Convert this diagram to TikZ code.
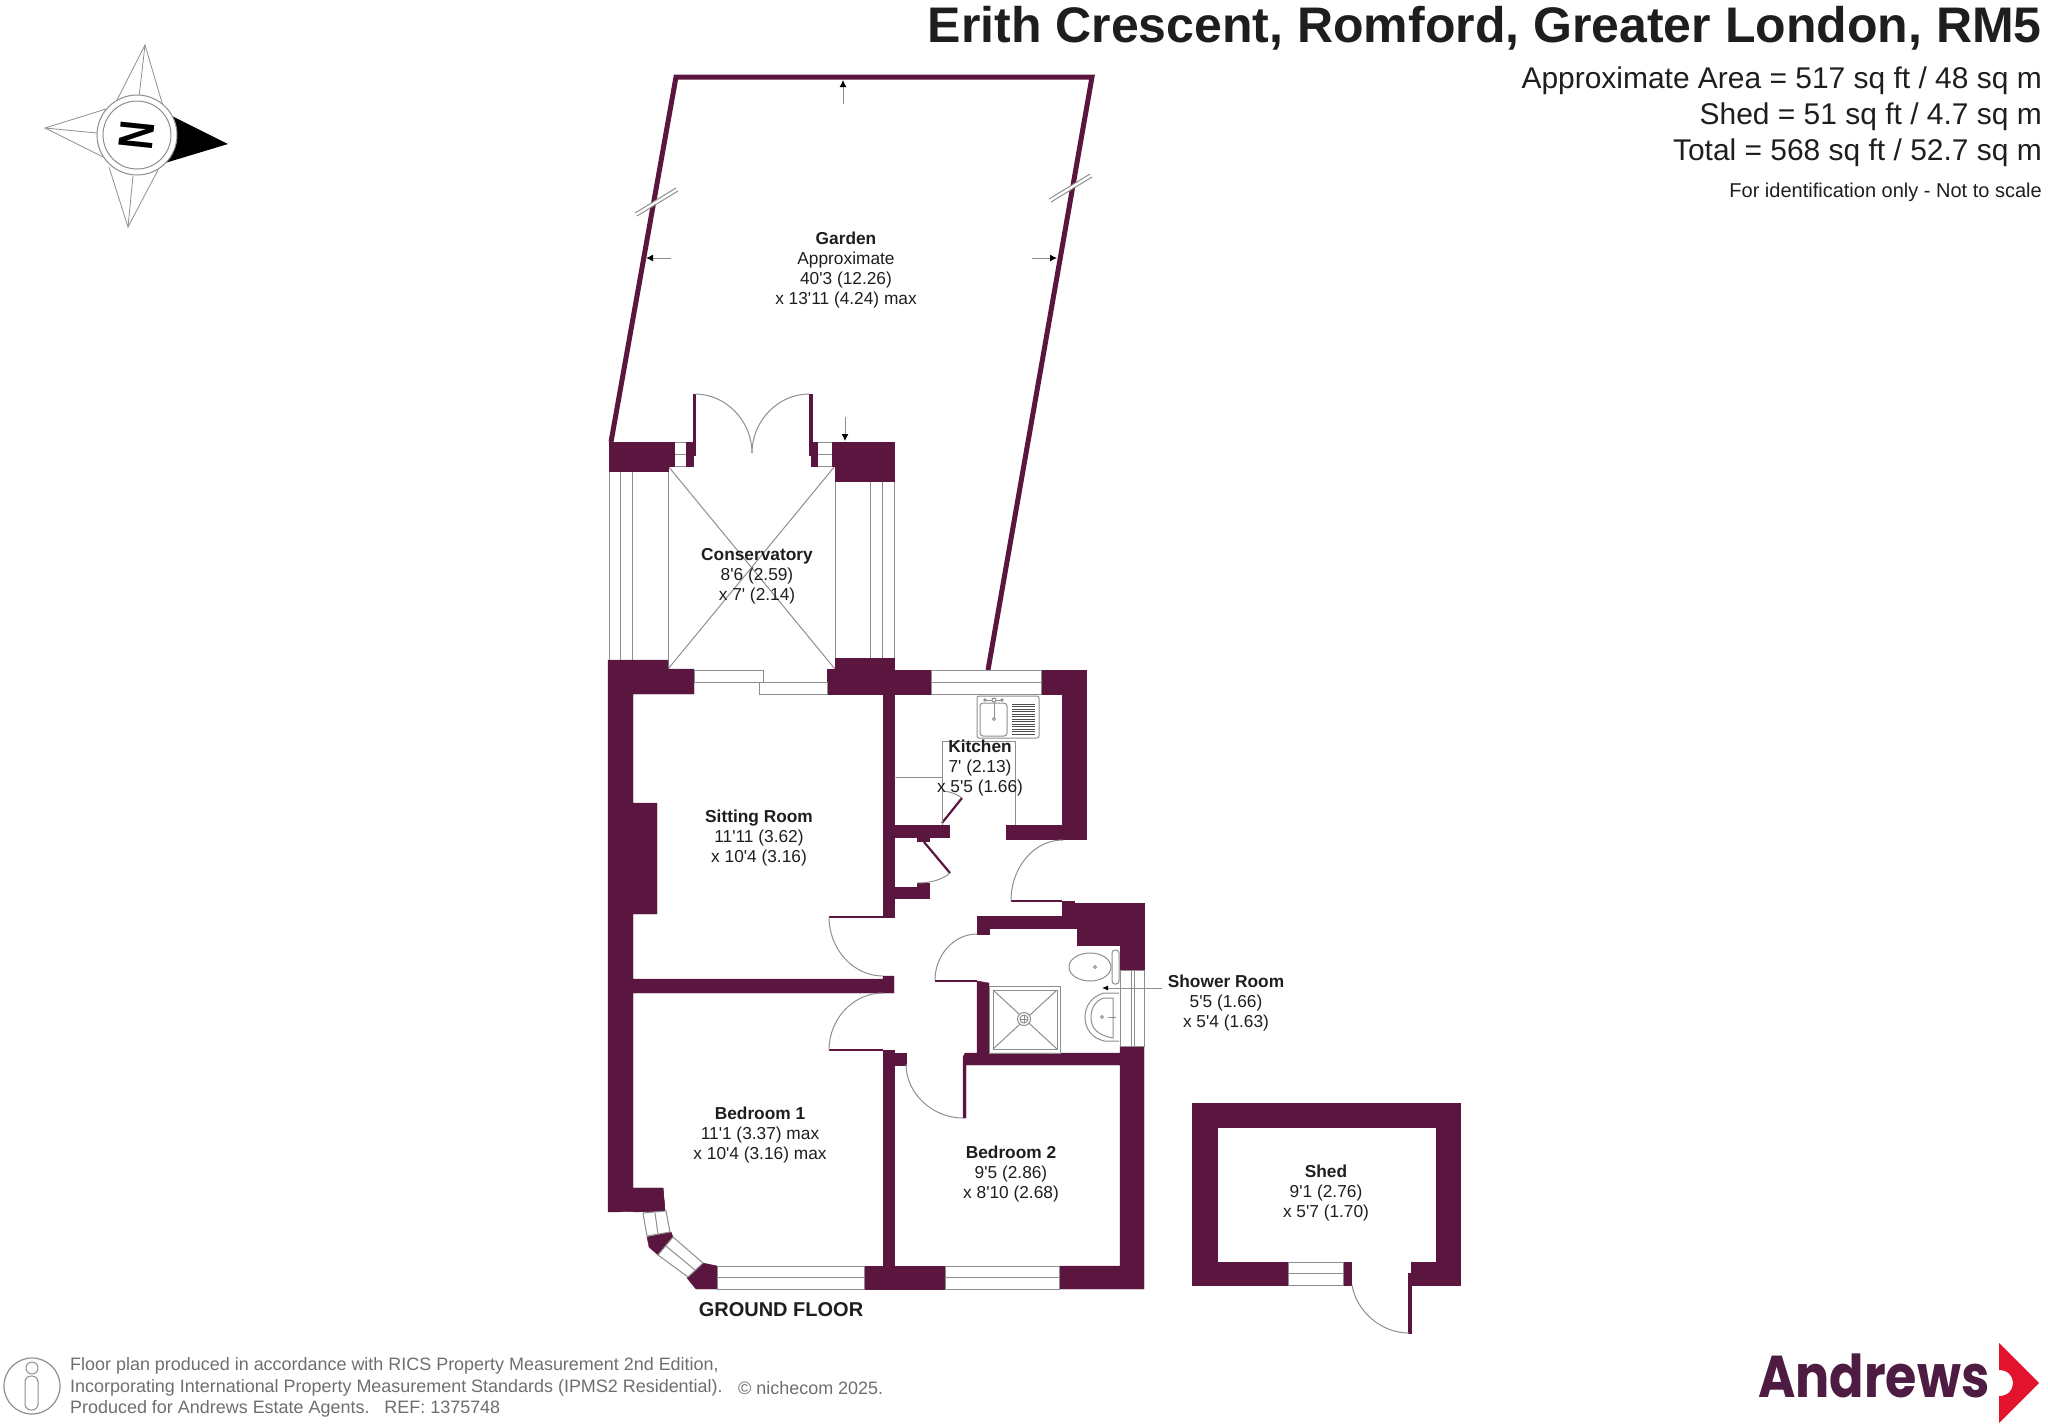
\documentclass[tikz,border=0pt]{standalone}
\usepackage{fontspec}
\setmainfont{Liberation Sans}[Ligatures=TeXOff]
\newfontfamily\logofont{Poppins}[FakeStretch=0.86]
\usetikzlibrary{arrows.meta}
\definecolor{wallplum}{HTML}{5B1640}
\definecolor{logoplum}{HTML}{4E1B42}
\definecolor{logored}{HTML}{E3132D}
\definecolor{thingray}{HTML}{8E8E8E}
\definecolor{footgray}{HTML}{6E6E6E}
\definecolor{inktext}{HTML}{1E1E1E}
\begin{document}
\begin{tikzpicture}
[
x=1pt, y=-1pt,
wall/.style={fill=wallplum, draw=wallplum, line width=0.4pt},
thickleaf/.style={draw=wallplum, line width=2.2pt},
gardenedge/.style={draw=wallplum, line width=5pt, line join=miter},
thin line/.style={draw=thingray, line width=1pt},
swing/.style={draw=thingray, line width=1pt},
pane/.style={draw=thingray, fill=white, line width=1pt},
dimarrow/.style={draw=thingray, line width=1pt, -{Latex[black,length=7pt,width=7pt]}},
roomlabel/.style={align=center, inner sep=0pt, text=inktext, font=\fontsize{17.3}{20}\selectfont},
headline/.style={anchor=east, inner sep=0pt, text=inktext, font=\fontsize{29.95}{32}\selectfont},
footline/.style={anchor=west, inner sep=0pt, text=footgray, font=\fontsize{17.95}{20}\selectfont}
]
\useasboundingbox (0,0) rectangle (2048,1425);
%Garden
\draw[gardenedge] (611,442) -- (676,77) -- (1092,77) -- (988,670);
\fill[white] (636,216) -- (677,191) -- (676,188) -- (635,213) -- cycle;
\fill[white] (1050,202) -- (1091,177) -- (1090,174) -- (1049,199) -- cycle;
\draw[thin line] (635,213) -- (676,188);
\draw[thin line] (637,216) -- (678,191);
\draw[thin line] (1049,199) -- (1090,174);
\draw[thin line] (1051,202) -- (1092,177);
\coordinate (gardentopfoot) at (843,104);
\coordinate (gardentoptip) at (843,80);
\coordinate (gardenleftfoot) at (671,258);
\coordinate (gardenlefttip) at (646,258);
\coordinate (gardenrightfoot) at (1032,258);
\coordinate (gardenrighttip) at (1057,258);
\coordinate (gardenlowfoot) at (845,417);
\coordinate (gardenlowtip) at (845,441);
\draw[dimarrow] (gardentopfoot) -- (gardentoptip);
\draw[dimarrow] (gardenleftfoot) -- (gardenlefttip);
\draw[dimarrow] (gardenrightfoot) -- (gardenrighttip);
\draw[dimarrow] (gardenlowfoot) -- (gardenlowtip);
%Conservatory
\draw[thin line] (609,471) -- (609,660);
\draw[thin line] (620,471) -- (620,660);
\draw[thin line] (632,471) -- (632,660);
\draw[thin line] (668,466) -- (668,669);
\draw[thin line] (835,466) -- (835,669);
\draw[thin line] (870,481) -- (870,658);
\draw[thin line] (882,481) -- (882,658);
\draw[thin line] (894,481) -- (894,658);
\draw[thin line] (668,466) -- (835,669);
\draw[thin line] (835,466) -- (668,669);
\draw[pane] (674,442) rectangle (686,466);
\draw[thin line] (674,454) -- (686,454);
\draw[pane] (817,442) rectangle (832,466);
\draw[thin line] (817,454) -- (832,454);
\draw[thin line] (668,466) -- (693,466);
\draw[thin line] (811,466) -- (835,466);
\fill[wall] (609,442) -- (674,442) -- (674,466) -- (668,466) -- (668,471) -- (609,471) -- cycle;
\fill[wall] (832,442) -- (894,442) -- (894,481) -- (835,481) -- (835,466) -- (832,466) -- cycle;
\fill[wall] (693,394) -- (695,394) -- (695,455) -- (693,455) -- (693,466) -- (686,466) -- (686,442) -- (693,442) -- cycle;
\fill[wall] (809,394) -- (812,394) -- (812,442) -- (817,442) -- (817,466) -- (811,466) -- (811,455) -- (809,455) -- cycle;
\draw[swing] (695,394) .. controls (726,394) and (752,421) .. (752,453);
\draw[swing] (809,394) .. controls (778,394) and (752,421) .. (752,453);
%Walls
\fill[wall] (608,660) -- (668,660) -- (668,669) -- (694,669) -- (694,694) -- (633,694) -- (633,803) -- (657,803) -- (657,914) -- (633,914) -- (633,979) -- (883,979) -- (883,976) -- (894,976) -- (894,993) -- (633,993) -- (633,1188) -- (663,1188) -- (665,1211) -- (608,1212) -- cycle;
\fill[wall] (827,669) -- (835,669) -- (835,658) -- (894,658) -- (894,670) -- (931,670) -- (931,694) -- (894,694) -- (894,917) -- (883,917) -- (883,694) -- (827,694) -- cycle;
\fill[wall] (1041,670) -- (1086,670) -- (1086,839) -- (1006,839) -- (1006,825) -- (1062,825) -- (1062,694) -- (1041,694) -- cycle;
\fill[wall] (894,825) -- (949,825) -- (949,837) -- (929,837) -- (929,841) -- (917,841) -- (917,837) -- (894,837) -- cycle;
\fill[wall] (894,887) -- (917,887) -- (917,883) -- (929,883) -- (929,898) -- (894,898) -- cycle;
\fill[wall] (883,1050) -- (894,1050) -- (894,1053) -- (906,1053) -- (906,1065) -- (894,1065) -- (894,1266) -- (945,1266) -- (945,1289) -- (864,1289) -- (864,1266) -- (883,1266) -- cycle;
\fill[wall] (963,1057) -- (965,1053) -- (1120,1053) -- (1120,1046) -- (1144,1046) -- (1144,1289) -- (1059,1289) -- (1059,1266) -- (1120,1266) -- (1120,1065) -- (966,1065) -- (966,1118) -- (963,1118) -- cycle;
\fill[wall] (1062,901) -- (1074,901) -- (1074,903) -- (1144,903) -- (1144,970) -- (1120,970) -- (1120,945) -- (1077,945) -- (1077,928) -- (989,928) -- (989,934) -- (977,934) -- (977,916) -- (1062,916) -- cycle;
\fill[wall] (977,981) -- (989,983) -- (989,1053) -- (977,1053) -- cycle;
\fill[wall] (633,1188) -- (663,1188) -- (665,1211) -- (633,1212) -- cycle;
\fill[wall] (647,1237) -- (671,1232) -- (673,1237) -- (658,1255) -- (649,1247) -- cycle;
\fill[wall] (703,1263) -- (717,1266) -- (717,1289) -- (696,1289) -- (687,1278) -- cycle;
%Doors
\draw[thickleaf] (1011,901) -- (1062,901);
\draw[thickleaf] (829,917) -- (883,917);
\draw[thickleaf] (829,1050) -- (883,1050);
\draw[thickleaf] (935,981) -- (977,981);
\draw[thickleaf] (924,842) -- (950,873);
\draw[thickleaf] (942,823) -- (962,798);
\draw[swing] (829,917) .. controls (829,949) and (853,976) .. (883,976);
\draw[swing] (829,1050) .. controls (829,1019) and (853,993) .. (883,993);
\draw[swing] (906,1064) .. controls (906,1094) and (933,1118) .. (963,1118);
\draw[swing] (1011,901) .. controls (1011,867) and (1034,840) .. (1063,840);
\draw[swing] (935,980) .. controls (935,955) and (954,934) .. (977,934);
\draw[swing] (950,873) .. controls (942,880) and (930,883) .. (917,883);
\draw[swing] (962,798) .. controls (955,793) and (950,792) .. (944,791);
%Windows
\draw[pane] (694,670) rectangle (763,682);
\draw[pane] (759,682) rectangle (827,694);
\draw[pane] (931,670) rectangle (1041,694);
\draw[thin line] (931,682) -- (1041,682);
\draw[pane] (1120,970) rectangle (1144,1046);
\draw[thin line] (1131,970) -- (1131,1046);
\draw[thin line] (1134,970) -- (1134,1046);
\draw[pane] (717,1266) rectangle (864,1289);
\draw[thin line] (717,1277) -- (864,1277);
\draw[pane] (945,1266) rectangle (1059,1289);
\draw[thin line] (945,1277) -- (1059,1277);
\draw[pane] (643,1213) -- (666,1211) -- (670,1232) -- (647,1236) -- cycle;
\draw[thin line] (655,1213) -- (658,1234);
\draw[pane] (658,1255) -- (673,1237) -- (703,1263) -- (688,1277) -- cycle;
\draw[thin line] (666,1246) -- (695,1270);
%Kitchen fittings
\draw[thin line] (894,777) -- (942,777);
\draw[thin line] (942,825) -- (942,741) -- (1015,741) -- (1015,825);
\draw[thin line, rounded corners=2pt] (977,696) rectangle (1039,738);
\draw[thin line, rounded corners=3pt] (980,703) rectangle (1007,736);
\foreach \yy in {704,706.5,...,734}
	\draw[draw=black!70, line width=0.8pt] (1012,\yy) -- (1035,\yy);
\draw[thin line] (985,700) -- (1002,700);
\draw[thin line] (994,700) -- (994,719);
\draw[thin line, fill=white] (994,700) circle (2pt);
\draw[thin line, fill=white] (985,700) circle (1.2pt);
\draw[thin line, fill=white] (1002,700) circle (1.2pt);
\draw[thin line, fill=white] (994,719) circle (1.5pt);
%Shower room fittings
\draw[thin line] (989,986) rectangle (1060,1053);
\draw[thin line] (993,990) rectangle (1057,1049);
\draw[thin line] (993,990) -- (1057,1049);
\draw[thin line] (1057,990) -- (993,1049);
\draw[thin line, fill=white] (1024,1019) circle (6.5pt);
\draw[thin line] (1024,1019) circle (4pt);
\draw[thin line] (1020,1019) -- (1028,1019);
\draw[thin line] (1024,1015) -- (1024,1023);
\draw[thin line] (1090,967) ellipse (21pt and 14pt);
\draw[thin line, fill=white, rounded corners=3pt] (1112,950) rectangle (1119,984);
\draw[thin line] (1095,967) circle (1.5pt);
\draw[thin line] (1119,993) -- (1104,993) .. controls (1092,996) and (1085,1006) .. (1085,1017) .. controls (1085,1029) and (1092,1038) .. (1104,1041) -- (1119,1041);
\draw[thin line] (1113,998) -- (1104,998) .. controls (1096,1000) and (1091,1008) .. (1091,1017) .. controls (1091,1027) and (1096,1035) .. (1113,1038) -- cycle;
\draw[thin line] (1102,1017) circle (1.5pt);
\draw[thin line] (1108,1017) -- (1116,1017);
\coordinate (showerfoot) at (1162,988);
\coordinate (showertip) at (1102,988);
\draw[dimarrow, -{Latex[black,length=6pt,width=5pt]}] (showerfoot) -- (showertip);
%Shed
\fill[wall] (1192,1103) -- (1460,1103) -- (1460,1285) -- (1411,1285) -- (1411,1262) -- (1436,1262) -- (1436,1127) -- (1217,1127) -- (1217,1262) -- (1288,1262) -- (1288,1285) -- (1192,1285) -- cycle;
\fill[wall] (1343,1262) rectangle (1351,1285);
\fill[wall] (1408,1273) rectangle (1411,1333);
\draw[pane] (1288,1262) rectangle (1343,1285);
\draw[thin line] (1288,1273) -- (1343,1273);
\draw[swing] (1352,1285) .. controls (1356,1310) and (1380,1333) .. (1409,1333);
%Compass
\draw[thin line, line width=0.8pt] (116,102) -- (145,45) -- (163,106);
\draw[thin line, line width=0.8pt] (145,45) -- (139,97);
\draw[thin line, line width=0.8pt] (106,109) -- (45,128) -- (103,157);
\draw[thin line, line width=0.8pt] (45,128) -- (97,133);
\draw[thin line, line width=0.8pt] (109,167) -- (128,227) -- (158,170);
\draw[thin line, line width=0.8pt] (128,227) -- (133,176);
\fill[black] (170,115) -- (228,144) -- (165,163) -- cycle;
\draw[thin line, fill=white] (137,135) circle (40pt);
\draw[thin line, fill=white] (137,135) circle (34pt);
\node[inner sep=0pt, rotate=-96, font=\fontsize{49}{49}\selectfont\bfseries] (compassletter) at (137,135) {\scalebox{0.8}[1]{N}};
%Room labels
\node[roomlabel] (garden) at (846,270.5) {\textbf{Garden}\\Approximate\\40'3 (12.26)\\x 13'11 (4.24) max};
\node[roomlabel] (conservatory) at (757,576.5) {\textbf{Conservatory}\\8'6 (2.59)\\x 7' (2.14)};
\node[roomlabel] (kitchen) at (980,768.5) {\textbf{Kitchen}\\7' (2.13)\\x 5'5 (1.66)};
\node[roomlabel] (sitting) at (759,838.5) {\textbf{Sitting Room}\\11'11 (3.62)\\x 10'4 (3.16)};
\node[roomlabel] (shower) at (1226,1003.5) {\textbf{Shower Room}\\5'5 (1.66)\\x 5'4 (1.63)};
\node[roomlabel] (bedone) at (760,1135.5) {\textbf{Bedroom 1}\\11'1 (3.37) max\\x 10'4 (3.16) max};
\node[roomlabel] (bedtwo) at (1011,1174.5) {\textbf{Bedroom 2}\\9'5 (2.86)\\x 8'10 (2.68)};
\node[roomlabel] (shed) at (1326,1193.5) {\textbf{Shed}\\9'1 (2.76)\\x 5'7 (1.70)};
\node[inner sep=0pt, text=inktext, font=\fontsize{20}{22}\selectfont\bfseries] (groundfloor) at (781,1310) {GROUND FLOOR};
%Heading
\node[anchor=east, inner sep=0pt, text=inktext, font=\fontsize{50}{52}\selectfont\bfseries] (title) at (2042,28.5) {Erith Crescent, Romford, Greater London, RM5};
\node[headline] (areamain) at (2042,81) {Approximate Area = 517 sq ft / 48 sq m};
\node[headline] (areashed) at (2042,117) {Shed = 51 sq ft / 4.7 sq m};
\node[headline] (areatotal) at (2042,153) {Total = 568 sq ft / 52.7 sq m};
\node[anchor=east, inner sep=0pt, text=inktext, font=\fontsize{20}{22}\selectfont] (notscale) at (2042,192) {For identification only - Not to scale};
%Footer
\draw[thin line, line width=1.2pt] (32,1386) circle (28pt);
\draw[thin line] (32,1368) circle (6pt);
\draw[thin line, rounded corners=6pt] (25,1376) rectangle (38,1410);
\node[footline] (footone) at (70,1366) {Floor plan produced in accordance with RICS Property Measurement 2nd Edition,};
\node[footline] (foottwo) at (70,1388) {Incorporating International Property Measurement Standards (IPMS2 Residential).};
\node[footline] (footthree) at (70,1409) {Produced for Andrews Estate Agents.\ \ \ REF: 1375748};
\node[footline] (footcopy) at (738,1388) {\textcopyright\ nichecom 2025.};
%Logo
\node[anchor=base west, inner sep=0pt, text=logoplum, font=\logofont\bfseries\fontsize{59}{60}\selectfont] (andrews) at (1758,1397) {Andrews};
\fill[logored] (1999,1343) -- (2039,1383) -- (1999,1423) -- (1999,1396) .. controls (2008,1396) and (2013,1390) .. (2013,1383) .. controls (2013,1376) and (2008,1370) .. (1999,1370) -- cycle;
\end{tikzpicture}
\end{document}
